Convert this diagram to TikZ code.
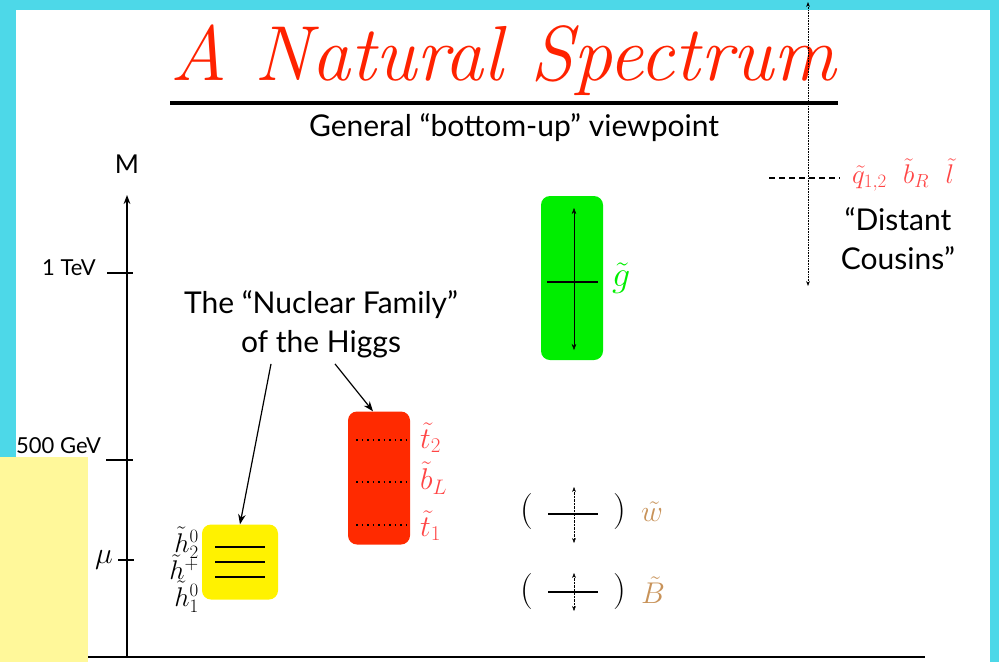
\RequirePackage{fix-cm}
\documentclass[tikz,border=0pt]{standalone}
\usepackage{fontspec}
\newfontfamily\gill{Lato}
\usetikzlibrary{arrows.meta,positioning}
\definecolor{framecyan}{HTML}{4DD8E8}
\definecolor{paleyel}{HTML}{FFF89A}
\definecolor{titlered}{HTML}{FF2200}
\definecolor{sred}{HTML}{FF4545}
\definecolor{stopred}{HTML}{FF2A00}
\definecolor{gluino}{HTML}{00EE00}
\definecolor{ewk}{HTML}{C8935A}
\tikzset{
  band/.style={rounded corners=9pt,inner sep=0pt},
  txt/.style={font=\gill\fontsize{30}{39}\selectfont,align=center,inner sep=0pt},
  axlbl/.style={font=\gill\fontsize{22}{24}\selectfont,inner sep=0pt},
  mlbl/.style={font=\fontsize{30}{32}\selectfont,inner sep=0pt},
  paren/.style={font=\fontsize{36}{38}\selectfont,inner sep=0pt},
  masstick/.style={line width=1.2pt},
  spread/.style={densely dotted,{Stealth[length=5pt]}-{Stealth[length=5pt]}},
  ptr/.style={-{Stealth[length=10pt]},line width=1.2pt},
}
\begin{document}
\begin{tikzpicture}[x=1pt,y=-1pt]
  \useasboundingbox (0,0) rectangle (999,662);
  % frame
  \fill[framecyan] (0,0) rectangle (16,662);
  \fill[framecyan] (0,0) rectangle (999,10);
  \fill[framecyan] (990,0) rectangle (999,662);
  \fill[paleyel] (0,457) rectangle (88,662);

  % title
  \node[text=titlered,font=\itshape\fontsize{78}{80}\selectfont,inner sep=0pt] (title) at (503,60) {A Natural Spectrum};
  \draw[line width=4pt] (170,103) -- (838,103);
  \node[txt] (sub) at (514,128) {General “bottom-up” viewpoint};

  % mass axis
  \coordinate (origin) at (127,657);
  \coordinate (top) at (127,195);
  \draw[line width=1.4pt,-{Stealth[length=9pt]}] (origin) -- (top);
  \draw[line width=1.4pt] (88,657) -- (925,657);
  \node[axlbl,font=\gill\fontsize{26}{28}\selectfont] (M) at (127,164) {M};
  \draw[masstick] (107,273) -- (133,273);
  \node[axlbl,anchor=east] (tev) at (96,268) {1 TeV};
  \draw[masstick] (106,460) -- (133,460);
  \node[axlbl,anchor=west] (gev) at (16,446) {500 GeV};
  \draw[masstick] (118,560) -- (134,560);
  \node[mlbl,anchor=east] (mu) at (113,560) {$\mu$};

  % nuclear family
  \node[band,fill=yellow,minimum width=76pt,minimum height=75pt] (higgsino) at (240,562) {};
  \draw[line width=1.6pt] (215,547) -- (265,547);
  \draw[line width=1.6pt] (215,562) -- (265,562);
  \draw[line width=1.6pt] (215,577) -- (265,577);
  \node[mlbl,font=\fontsize{27}{30}\selectfont,anchor=east] (h2) at (199,543) {$\tilde h^0_2$};
  \node[mlbl,font=\fontsize{27}{30}\selectfont,anchor=east] (hp) at (199,567) {$\tilde h^+$};
  \node[mlbl,font=\fontsize{27}{30}\selectfont,anchor=east] (h1) at (199,597) {$\tilde h^0_1$};

  \node[band,fill=stopred,minimum width=62pt,minimum height=133pt] (stops) at (379,478) {};
  \foreach \yy in {440,482,525}
    \draw[line width=1.5pt,loosely dotted] (356,\yy) -- (406,\yy);
  \node[mlbl,text=sred,anchor=west] (t2) at (420,438) {$\tilde t_2$};
  \node[mlbl,text=sred,anchor=west] (bL) at (420,478) {$\tilde b_L$};
  \node[mlbl,text=sred,anchor=west] (t1) at (420,526) {$\tilde t_1$};

  \node[txt] (nuclear) at (321,324) {The “Nuclear Family”\\of the Higgs};
  \draw[ptr] ([xshift=-50pt,yshift=-6pt]nuclear.south) -- (higgsino.north);
  \draw[ptr] ([xshift=14pt,yshift=-6pt]nuclear.south) -- ([xshift=-6pt]stops.north);

  % gluino
  \node[band,fill=gluino,minimum width=62pt,minimum height=164pt] (gluino) at (572,278) {};
  \draw[line width=1.4pt] (547,282) -- (598,282);
  \draw[{Stealth[length=6pt]}-{Stealth[length=6pt]}] (574,208) -- (574,350);
  \node[mlbl,text=gluino,font=\fontsize{36}{38}\selectfont,anchor=west] (gl) at (612,278) {$\tilde g$};

  % wino, bino
  \node[paren] (wl) at (527,512) {(};
  \node[paren] (wr) at (620,512) {)};
  \draw[line width=1.4pt] (548,514) -- (598,514);
  \draw[spread] (574,487) -- (574,543);
  \node[mlbl,text=ewk,anchor=west] (wino) at (641,512) {$\tilde w$};
  \node[paren] (bl) at (527,592) {(};
  \node[paren] (br) at (620,592) {)};
  \draw[line width=1.4pt] (548,592) -- (598,592);
  \draw[spread] (574,573) -- (574,611);
  \node[mlbl,text=ewk,anchor=west] (bino) at (641,590) {$\tilde B$};

  % distant cousins
  \draw[spread,line width=0.6pt] (808,2) -- (808,286);
  \draw[line width=1.3pt,dash pattern=on 6pt off 4pt] (769,178) -- (840,178);
  \node[mlbl,text=sred,font=\fontsize{27}{30}\selectfont,anchor=west] (far) at (852,175) {$\tilde q_{1,2}\ \ \tilde b_R\ \ \tilde l$};
  \node[txt] (cousins) at (898,239) {“Distant\\Cousins”};
\end{tikzpicture}
\end{document}
